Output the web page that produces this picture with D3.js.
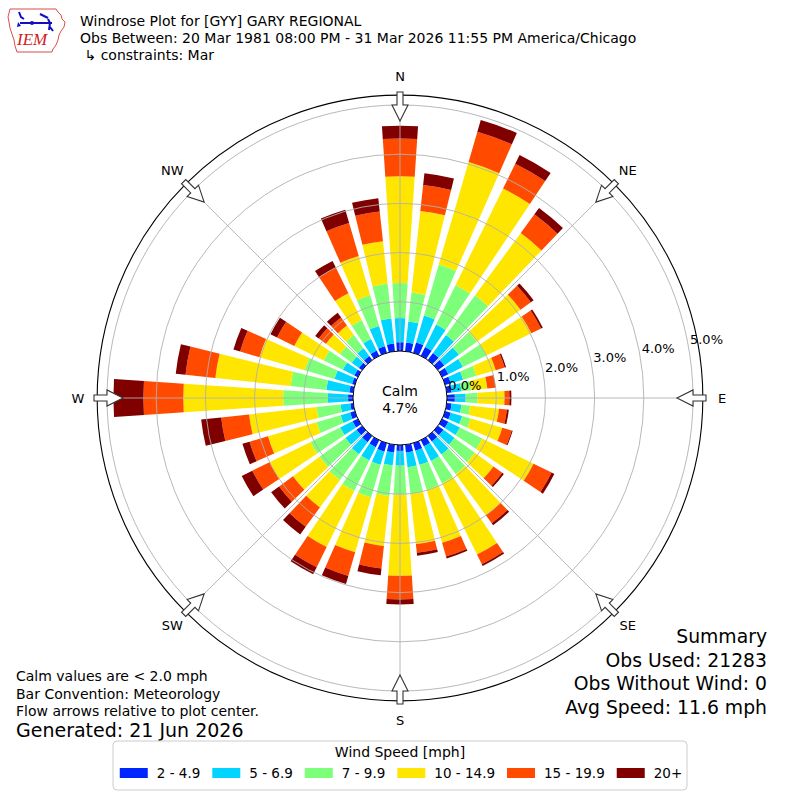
<!DOCTYPE html>
<html>
<head>
<meta charset="utf-8">
<script src="https://cdn.jsdelivr.net/npm/d3@7"></script>
<style>
  body { margin: 0; background: #fff; }
  text { font-family: "DejaVu Sans", sans-serif; fill: #000; }
</style>
</head>
<body>
<svg id="chart" width="800" height="800"></svg>
<script>
// direction bins (degrees, meteorological: where the wind comes from)
var directions = [0,10,20,30,40,50,60,70,80,90,100,110,120,130,140,150,160,170,
                  180,190,200,210,220,230,240,250,260,270,280,290,300,310,320,330,340,350];

var speedBins = ["2 - 4.9", "5 - 6.9", "7 - 9.9", "10 - 14.9", "15 - 19.9", "20+"];
var binColors = ["#0026ff", "#00d4ff", "#7dff7a", "#ffe600", "#ff4a00", "#800000"];

// percent of obs per direction, one array per speed bin
var spd2to5 = [0.18,0.18,0.22,0.20,0.18,0.16,0.14,0.12,0.10,0.16,0.10,0.12,0.14,0.14,0.14,0.14,0.16,0.16,
               0.12,0.16,0.18,0.16,0.16,0.14,0.12,0.10,0.06,0.10,0.08,0.06,0.08,0.08,0.10,0.12,0.14,0.16];
var spd5to7 = [0.49,0.43,0.57,0.51,0.45,0.37,0.33,0.26,0.20,0.22,0.20,0.24,0.26,0.28,0.33,0.33,0.30,0.30,
               0.30,0.26,0.28,0.30,0.30,0.28,0.28,0.20,0.20,0.41,0.47,0.37,0.26,0.18,0.20,0.26,0.43,0.51];
var spd7to10 = [0.71,0.59,1.08,0.89,1.00,0.45,0.53,0.28,0.20,0.24,0.18,0.18,0.51,0.51,0.49,0.51,0.53,0.55,
                0.59,0.63,0.69,0.69,0.65,0.65,0.67,0.51,0.49,0.91,0.73,0.63,0.43,0.30,0.33,0.43,0.65,0.71];
var spd10to15 = [2.17,1.67,2.17,2.19,1.57,1.10,1.02,0.41,0.33,0.55,0.59,0.67,1.16,0.47,1.04,1.61,1.12,1.02,
                 1.65,1.02,1.16,1.27,0.69,0.67,0.93,1.03,1.38,2.03,1.54,0.96,0.67,0.35,0.24,0.61,0.83,0.87];
var spd15to20 = [0.77,0.53,0.64,0.56,0.47,0.26,0.22,0.19,0.16,0.10,0.16,0.20,0.41,0.22,0.20,0.22,0.29,0.18,
                 0.48,0.46,0.50,0.46,0.49,0.35,0.39,0.39,0.57,0.81,0.61,0.41,0.39,0.18,0.20,0.58,0.70,0.61];
var spd20plus = [0.26,0.24,0.25,0.20,0.16,0.07,0.04,0.03,0.01,0.04,0.04,0.02,0.06,0.04,0.05,0.04,0.04,0.06,
                 0.10,0.14,0.17,0.16,0.19,0.20,0.24,0.15,0.41,0.61,0.20,0.14,0.15,0.09,0.12,0.15,0.28,0.27];

var ringTicks = [0, 1, 2, 3, 4, 5];
var compassNames = ["N", "NE", "E", "SE", "S", "SW", "W", "NW"];
var compassAngles = [0, 45, 90, 135, 180, 225, 270, 315];

var calmPct = "4.7%";
var titleLines = ["Windrose Plot for [GYY] GARY REGIONAL",
                  "Obs Between: 20 Mar 1981 08:00 PM - 31 Mar 2026 11:55 PM America/Chicago",
                  " \u21b3 constraints: Mar"];
var summaryLines = ["Summary", "Obs Used: 21283", "Obs Without Wind: 0", "Avg Speed: 11.6 mph"];
var noteLines = ["Calm values are < 2.0 mph", "Bar Convention: Meteorology", "Flow arrows relative to plot center."];
var generatedText = "Generated: 21 Jun 2026";

var cx = 400, cy = 398;
var rmax = 5.2;
var svg = d3.select("#chart");
var rad = Math.PI / 180;

var r = d3.scaleLinear().domain([0, 5]).range([47, 293]);

var series = [spd2to5, spd5to7, spd7to10, spd10to15, spd15to20, spd20plus];
var rows = directions.map(function (d, i) {
  var row = { dir: d };
  speedBins.forEach(function (b, j) { row[b] = series[j][i]; });
  return row;
});
var stacked = d3.stack().keys(speedBins)(rows);

var plot = svg.append("g").attr("transform", "translate(" + cx + "," + cy + ")");

// bars
var halfW = 3.8 * rad;
var arc = d3.arc();
stacked.forEach(function (layer, j) {
  plot.append("g").selectAll("path").data(layer).enter().append("path")
    .attr("d", function (d) {
      var a = d.data.dir * rad;
      return arc({ innerRadius: r(d[0]), outerRadius: r(d[1]), startAngle: a - halfW, endAngle: a + halfW });
    })
    .attr("fill", binColors[j]);
});

// grid on top of bars
plot.append("g").selectAll("circle").data(ringTicks.slice(1)).enter().append("circle")
  .attr("r", function (d) { return r(d); })
  .attr("fill", "none").attr("stroke", "#b0b0b0").attr("stroke-width", 0.9);

plot.append("g").selectAll("line").data(compassAngles).enter().append("line")
  .attr("x1", function (d) { return r(0) * Math.sin(d * rad); })
  .attr("y1", function (d) { return -r(0) * Math.cos(d * rad); })
  .attr("x2", function (d) { return r(rmax) * Math.sin(d * rad); })
  .attr("y2", function (d) { return -r(rmax) * Math.cos(d * rad); })
  .attr("stroke", "#b0b0b0").attr("stroke-width", 0.9);

// outer frame
plot.append("circle").attr("r", r(rmax)).attr("fill", "none").attr("stroke", "#000").attr("stroke-width", 1.1);

// calm circle
plot.append("circle").attr("r", r(0)).attr("fill", "#fff").attr("stroke", "#000").attr("stroke-width", 1);
plot.append("text").attr("x", 0).attr("y", -7).attr("text-anchor", "middle").attr("dominant-baseline", "central")
  .style("font-size", "14px").text("Calm");
plot.append("text").attr("x", 0).attr("y", 10).attr("text-anchor", "middle").attr("dominant-baseline", "central")
  .style("font-size", "14px").text(calmPct);

// ring labels
var labAng = 79.2 * rad;
plot.append("g").selectAll("text").data(ringTicks).enter().append("text")
  .attr("x", function (d) { return (r(d) + 19) * Math.sin(labAng); })
  .attr("y", function (d) { return -(r(d) + 19) * Math.cos(labAng); })
  .attr("text-anchor", "middle").attr("dominant-baseline", "central")
  .style("font-size", "13px")
  .text(function (d) { return d.toFixed(1) + "%"; });

// compass arrows
var arrowPath = "M0,-277 L8,-293 L3,-293 L3,-306 L-3,-306 L-3,-293 L-8,-293 Z";
plot.append("g").selectAll("path").data(compassAngles).enter().append("path")
  .attr("d", arrowPath)
  .attr("transform", function (d) { return "rotate(" + d + ")"; })
  .attr("fill", "#fff").attr("stroke", "#333").attr("stroke-width", 1.1).attr("stroke-linejoin", "miter");

plot.append("g").selectAll("text").data(compassNames).enter().append("text")
  .attr("x", function (d, i) { return 322 * Math.sin(compassAngles[i] * rad); })
  .attr("y", function (d, i) { return -322 * Math.cos(compassAngles[i] * rad); })
  .attr("text-anchor", "middle").attr("dominant-baseline", "central")
  .style("font-size", "13px").text(function (d) { return d; });

// title
svg.append("g").selectAll("text").data(titleLines).enter().append("text")
  .attr("x", 80).attr("y", function (d, i) { return 26 + i * 17; })
  .style("font-size", "14px").style("white-space", "pre")
  .text(function (d) { return d; });

// IEM logo
var logo = svg.append("g");
logo.append("path")
  .attr("d", "M10,9 L56,9 L58,12 L61,15 L62,19 L65,22 L64,27 L61,31 L59,35 L58,40 L56,45 L53,49 L52,52 L17,52 L15,46 L14,40 L12,34 L10,28 L9,22 L8,17 L9,13 Z")
  .attr("fill", "none").attr("stroke", "#d02020").attr("stroke-width", 0.8);
logo.append("path").attr("d", "M19,12 L21,17 L24,19 M20,23 L52,23 M40,14 L48,18 M48,19 L50,23 L49,30 M50,27 L53,31")
  .attr("fill", "none").attr("stroke", "#1010c0").attr("stroke-width", 2);
logo.append("path").attr("d", "M18,22 L21,26 L17,27 Z").attr("fill", "#1010c0");
logo.append("circle").attr("cx", 32).attr("cy", 23).attr("r", 2).attr("fill", "#1010c0");
logo.append("text").attr("x", 17).attr("y", 45)
  .style("font-family", "'Liberation Serif', serif").style("font-style", "italic")
  .style("font-size", "17px").style("fill", "#d02020").text("IEM");

// summary
svg.append("g").selectAll("text").data(summaryLines).enter().append("text")
  .attr("x", 767).attr("y", function (d, i) { return 643 + i * 23.5; })
  .attr("text-anchor", "end").style("font-size", "18.8px")
  .text(function (d) { return d; });

// notes
svg.append("g").selectAll("text").data(noteLines).enter().append("text")
  .attr("x", 16).attr("y", function (d, i) { return 681 + i * 17.5; })
  .style("font-size", "14px").text(function (d) { return d; });
svg.append("text").attr("x", 16).attr("y", 737).style("font-size", "19px").text(generatedText);

// legend
var leg = svg.append("g");
leg.append("rect").attr("x", 113).attr("y", 741).attr("width", 574).attr("height", 49)
  .attr("rx", 4).attr("fill", "#fff").attr("stroke", "#cccccc").attr("stroke-width", 1);
leg.append("text").attr("x", 400).attr("y", 757).attr("text-anchor", "middle")
  .style("font-size", "14px").text("Wind Speed [mph]");
var items = leg.append("g");
var xpos = 0, lastEnd = 0;
speedBins.forEach(function (b, j) {
  items.append("rect").attr("x", xpos).attr("y", 768).attr("width", 28).attr("height", 10).attr("fill", binColors[j]);
  var t = items.append("text").attr("x", xpos + 37).attr("y", 778).style("font-size", "13.5px").text(b);
  lastEnd = xpos + 37 + t.node().getComputedTextLength();
  xpos = lastEnd + 12;
});
items.attr("transform", "translate(" + (401 - lastEnd / 2) + ",0)");
</script>
</body>
</html>
